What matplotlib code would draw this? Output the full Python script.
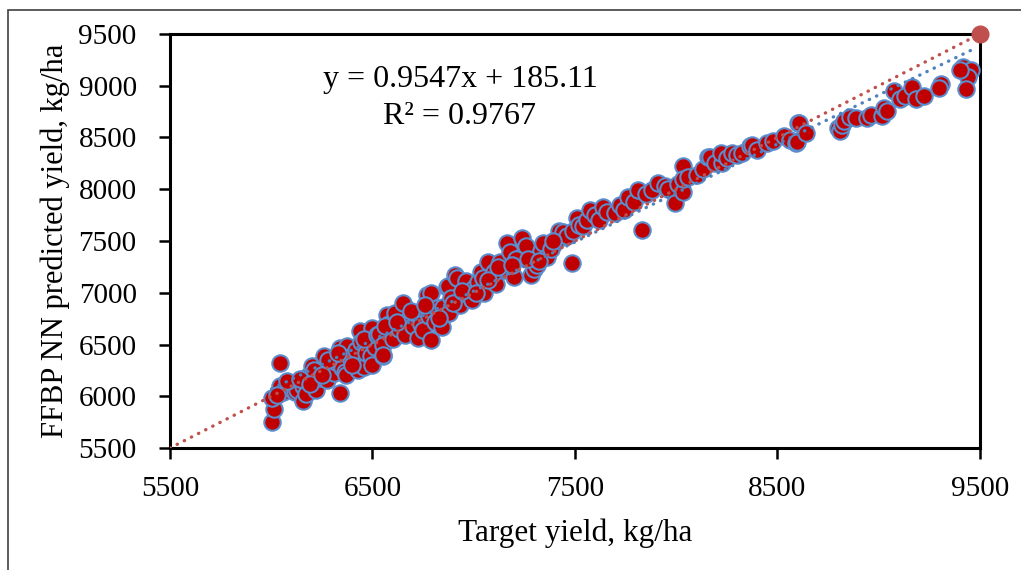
import matplotlib.pyplot as plt
import matplotlib.patches as mpatches
import numpy as np

plt.rcParams['font.family'] = ['Liberation Serif', 'DejaVu Serif']

# values (kg/ha)
target = [
    6002, 6013, 6002, 6043, 6043, 6060, 6090, 6117, 6126, 6155, 6158, 6170, 6180, 6200,
    6200, 6210, 6221, 6240, 6260, 6273, 6290, 6310, 6320, 6340, 6340, 6350, 6364, 6376,
    6368, 6390, 6410, 6420, 6438, 6430, 6445, 6458, 6470, 6480, 6496, 6491, 6500, 6510,
    6030, 6080, 6140, 6190, 6250, 6280, 6330, 6400, 6460, 6520,
    6530, 6553, 6550, 6553, 6570, 6580, 6600, 6610, 6630, 6652, 6660, 6680, 6700, 6709,
    6717, 6726, 6740, 6750, 6767, 6780, 6791, 6791, 6810, 6820, 6841, 6850, 6866, 6874,
    6880, 6890, 6907, 6915, 6930, 6950, 6964, 6989, 7000,
    6560, 6620, 6690, 6760, 6830, 6900, 6940,
    7020, 7038, 7050, 7072, 7090, 7110, 7130, 7150, 7163, 7180, 7200, 7236, 7245, 7260,
    7285, 7300, 7310, 7330, 7343, 7360, 7380, 7409, 7420, 7442, 7460, 7483, 7490, 7508,
    7047, 7100, 7210, 7270, 7390, 7010, 7070, 7120, 7190, 7320,
    7520, 7541, 7560, 7574, 7600, 7620, 7640, 7660, 7698, 7720, 7740, 7763, 7790, 7812,
    7829, 7850, 7880, 7911, 7944, 7960, 7994, 8010,
    8035, 8035, 8035, 8060, 8101, 8130, 8159, 8167, 8190, 8224, 8220, 8250, 8273, 8300,
    8323, 8364, 8372, 8400, 8448, 8480,
    8531, 8560, 8590, 8594, 8603, 8606, 8640, 8800, 8807, 8820, 8831, 8860, 8890, 8940,
    8960, 9015, 9024, 9040, 9074, 9107, 9130, 9166, 9182, 9224, 9307, 9300, 9416, 9457,
    9441, 9433, 9400,
]
predicted = [
    5754, 5874, 5980, 6318, 6096, 6040, 6080, 6038, 6060, 5954, 6102, 6020, 6200, 6295,
    6140, 6250, 6060, 6180, 6389, 6157, 6300, 6221, 6330, 6028, 6466, 6270, 6237, 6489,
    6205, 6380, 6330, 6450, 6630, 6253, 6520, 6285, 6420, 6560, 6656, 6386, 6300, 6480,
    6010, 6150, 6170, 6120, 6210, 6350, 6420, 6300, 6550, 6590,
    6600, 6495, 6386, 6398, 6785, 6700, 6550, 6800, 6650, 6904, 6592, 6750, 6680, 6801,
    6801, 6559, 6700, 6640, 6977, 6780, 6994, 6543, 6720, 6850, 6672, 6860, 7058, 7062,
    6800, 6950, 7171, 7139, 6880, 7000, 7110, 6930, 7050,
    6680, 6720, 6820, 6880, 6760, 6900, 7020,
    7100, 7203, 7000, 7300, 7150, 7080, 7300, 7220, 7477, 7390, 7150, 7526, 7364, 7450,
    7171, 7230, 7268, 7400, 7477, 7350, 7420, 7512, 7600, 7590, 7550, 7284, 7600, 7718,
    7140, 7200, 7330, 7330, 7500, 7000, 7120, 7250, 7270, 7310,
    7650, 7642, 7700, 7799, 7750, 7700, 7832, 7780, 7767, 7850, 7800, 7922, 7880, 7992,
    7606, 7950, 7990, 8057, 8031, 8000, 7871, 8050,
    7976, 8224, 8096, 8120, 8138, 8200, 8314, 8314, 8250, 8256, 8350, 8300, 8353, 8330,
    8346, 8413, 8427, 8380, 8446, 8470,
    8511, 8480, 8446, 8459, 8637, 8641, 8544, 8589, 8560, 8620, 8659, 8700, 8690, 8690,
    8720, 8707, 8788, 8760, 8952, 8870, 8900, 8984, 8870, 8903, 9017, 8980, 9180, 9148,
    9082, 8968, 9150,
]

slope = 0.9547
intercept = 185.11
r2 = 0.9767
ideal_x = [5500, 9500]
ticks_x = [5500, 6500, 7500, 8500, 9500]
ticks_y = [5500, 6000, 6500, 7000, 7500, 8000, 8500, 9000, 9500]

fig = plt.figure(figsize=(10.21, 5.70), dpi=100)
ax = fig.add_axes([0.1665, 0.214, 0.7933, 0.7264])

# thin outer frame (only top and left edges are visible in the picture)
fig.patches.append(mpatches.Rectangle((8 / 1021, -0.2), 1.2, 1.2 - 10 / 570,
                                      transform=fig.transFigure, fill=False,
                                      edgecolor='#404040', linewidth=1.2))

ax.scatter(target, predicted, s=140, c='#c00000', edgecolors='#5b8ccc',
           linewidths=1.5, zorder=3)

# linear trendline of the points (Excel style)
fit = np.polyfit(target, predicted, 1)
trend_x = np.array([min(target), max(target)])
ax.plot(trend_x, np.polyval(fit, trend_x), color='#4f81bd', linewidth=2.4,
        dashes=(0.1, 2.3), dash_capstyle='round', zorder=4)
ax.plot(ideal_x, ideal_x, color='#c0504d', linewidth=2.4,
        dashes=(0.1, 2.3), dash_capstyle='round', zorder=4)
ax.plot([ideal_x[-1]], [ideal_x[-1]], 'o', color='#c0504d', markersize=12,
        clip_on=False, zorder=5)

ax.set_xlim(5500, 9500)
ax.set_ylim(5500, 9500)
ax.set_xticks(ticks_x)
ax.set_yticks(ticks_y)
ax.tick_params(axis='both', direction='out', length=8, width=1.8,
               labelsize=21, pad=12)
ax.tick_params(axis='y', pad=16)
ax.tick_params(top=False, right=False)
for sp in ax.spines.values():
    sp.set_linewidth(2.2)
    sp.set_color('black')

ax.set_xlabel('Target yield, kg/ha', fontsize=22.5, labelpad=12)
ax.set_ylabel('FFBP NN predicted yield, kg/ha', fontsize=22, labelpad=6)

ax.text(0.358, 0.889, f'y = {slope}x + {intercept}', transform=ax.transAxes,
        ha='center', va='center', fontsize=23)
ax.text(0.358, 0.80, f'R\u00b2 = {r2}', transform=ax.transAxes,
        ha='center', va='center', fontsize=23)

fig.savefig('out.png', dpi=100)
